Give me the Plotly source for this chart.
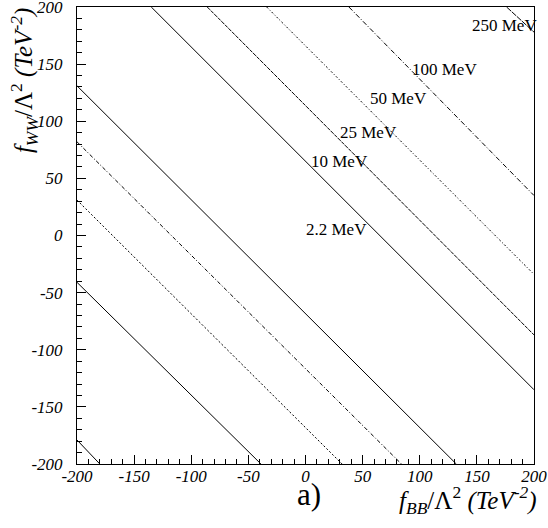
import plotly.graph_objects as go

# width contours in the (f_BB, f_WW) plane
# each contour line is given by its two end points
line_fbb_start = [-200, -200, -200, -200, -200, -135, -86, -34, 38, 176]
line_fww_start = [-179, -41, 31, 82, 131, 200, 200, 200, 200, 200]
line_fbb_end = [-180, -39, 32, 84, 132, 200, 200, 200, 200, 200]
line_fww_end = [-200, -200, -200, -200, -200, -135, -87, -34, 35, 178]

widths = ["2.2 MeV", "10 MeV", "25 MeV", "50 MeV", "100 MeV", "250 MeV"]

tick_vals = [-200, -150, -100, -50, 0, 50, 100, 150, 200]
tick_text = ["-200", "-150", "-100", "-50", "0", "50", "100", "150", "200"]

line_dash = ["solid", "solid", "2px,2px", "4px,2px,1px,2px", "solid",
             "solid", "4px,1px", "2px,2px,1px,2px", "5px,2px,1px,2px", "6px,1px"]
label_pos = [(27, 5), (30, 65), (55, 90), (81, 119.5), (122, 145), (174, 184)]

serif = "Liberation Serif, Times New Roman, serif"

fig = go.Figure()
for i in range(len(line_fbb_start)):
    fig.add_trace(go.Scatter(
        x=[line_fbb_start[i], line_fbb_end[i]],
        y=[line_fww_start[i], line_fww_end[i]],
        mode="lines",
        line=dict(color="black", width=1, dash=line_dash[i]),
        showlegend=False, hoverinfo="skip",
    ))

for txt, (px_, py_) in zip(widths, label_pos):
    fig.add_annotation(x=px_, y=py_, xref="x", yref="y", text=txt,
                       showarrow=False, font=dict(family=serif, size=17, color="black"))

axis_common = dict(
    range=[-200, 200], ticks="inside", ticklen=9, tickcolor="black",
    tickmode="array", tickvals=tick_vals, ticktext=tick_text,
    showline=True, mirror=True, linecolor="black", linewidth=1,
    showgrid=False, zeroline=False, automargin=False, ticklabeloverflow="allow",
    tickfont=dict(family=serif, size=17, color="black", style="italic"),
    minor=dict(dtick=10, tick0=0, ticks="inside", ticklen=5, tickcolor="black",
               showgrid=False),
)
fig.update_xaxes(**axis_common, ticklabelstandoff=-3)
fig.update_yaxes(**axis_common, ticklabelstandoff=10)

fig.add_annotation(x=0.508, y=-0.066, xref="paper", yref="paper", text="a)",
                   xanchor="center", yanchor="middle",
                   showarrow=False, font=dict(family=serif, size=31, color="black"))
fig.add_annotation(x=1.01, y=-0.079, xref="paper", yref="paper", xanchor="right",
                   yanchor="middle",
                   text="<i>f<sub>BB</sub></i>/Λ<sup>2</sup> <i>(TeV<sup>-2</sup>)</i>",
                   showarrow=False, font=dict(family=serif, size=25, color="black"))
fig.add_annotation(x=-0.117, y=0.676, xref="paper", yref="paper", yanchor="bottom",
                   xanchor="center", textangle=-90,
                   text="<i>f<sub>WW</sub></i>/Λ<sup>2</sup> <i>(TeV<sup>-2</sup>)</i>",
                   showarrow=False, font=dict(family=serif, size=25, color="black"))

fig.update_layout(
    width=548, height=528,
    margin=dict(l=77, r=14, t=7, b=64),
    font=dict(family=serif, color="black"),
    plot_bgcolor="white", paper_bgcolor="white",
)
fig.write_html("out.html", config={"displayModeBar": False},
               post_script="document.body.style.margin='0px';")
